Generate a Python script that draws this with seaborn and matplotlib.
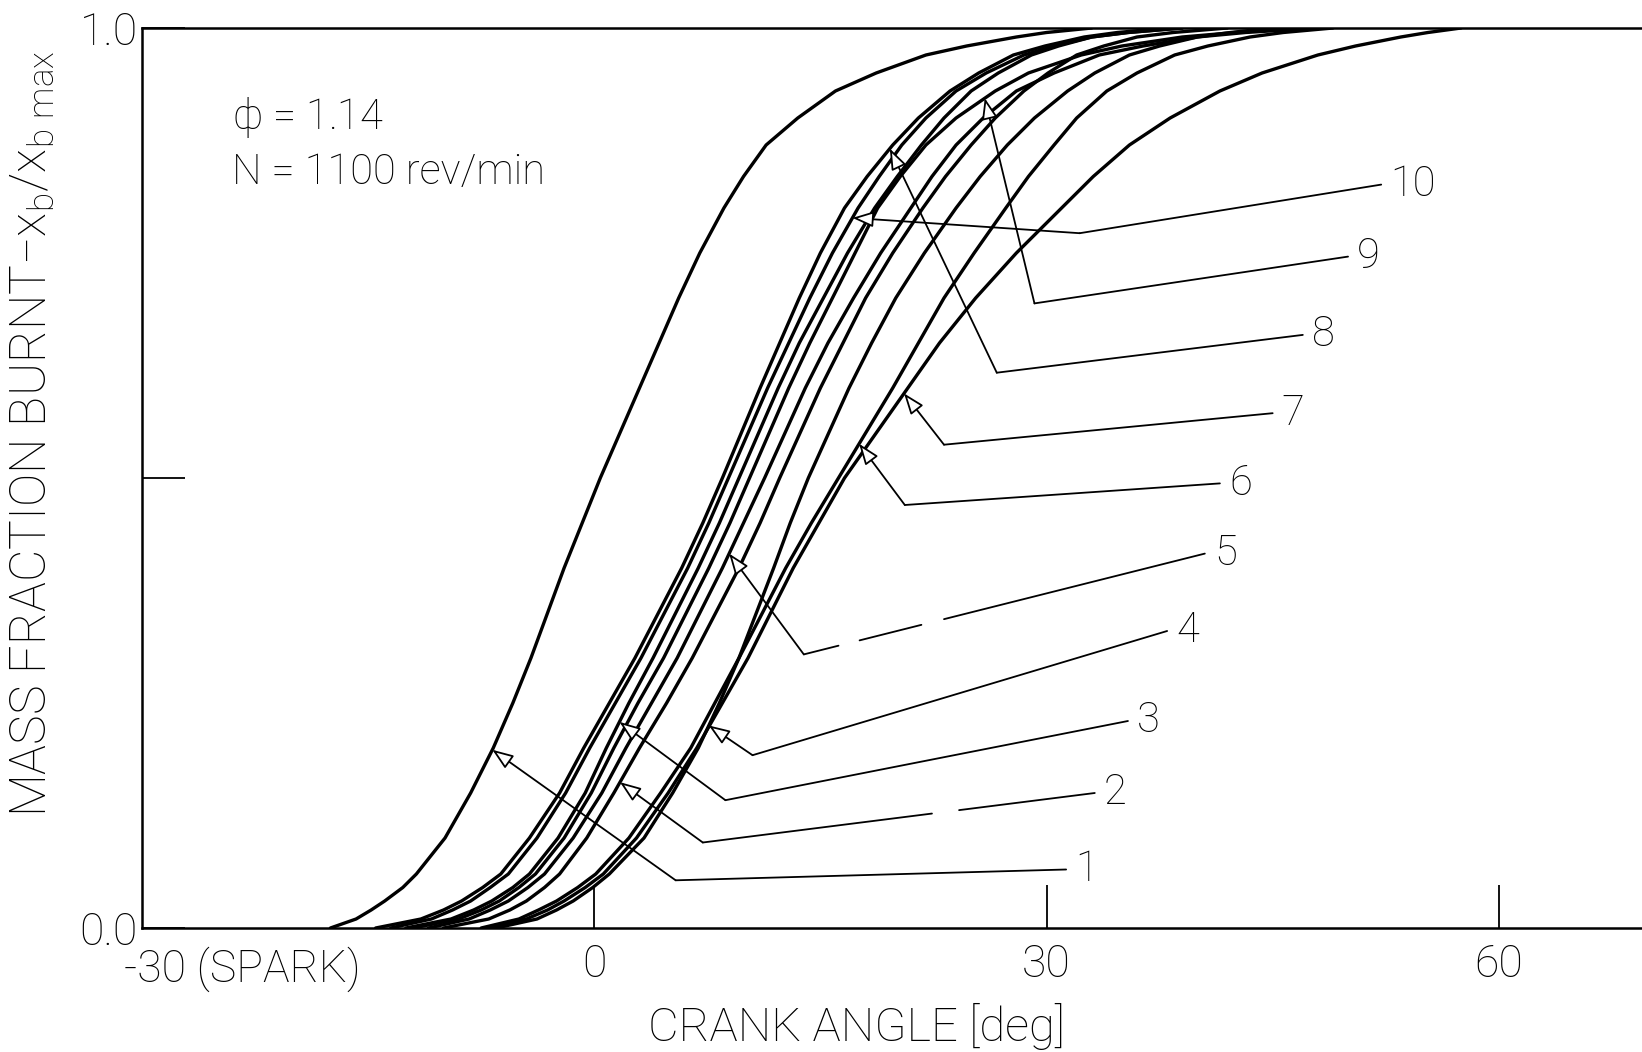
import numpy as np
import pandas as pd
import matplotlib
matplotlib.use("Agg")
import matplotlib.pyplot as plt
import seaborn as sns

# Burnt-mass fractions at which the crank angle of each cycle is tabulated
FRACTION_LEVELS = [0, 0.01, 0.02, 0.03, 0.045, 0.06, 0.1, 0.15, 0.2, 0.25,
                   0.3, 0.4, 0.45, 0.5, 0.6, 0.65, 0.7, 0.75, 0.8, 0.835,
                   0.87, 0.9, 0.93, 0.95, 0.97, 0.98, 0.99, 0.995, 1.0]

# Crank angle [deg] reached by each cycle at the fractions above
cycle_1 = [-17.5, -15.8, -14.8, -13.9, -12.7, -11.8, -9.9, -8.2, -6.7, -5.4,
           -4.2, -2.0, -0.8, 0.4, 3.0, 4.3, 5.6, 7.0, 8.6, 9.9,
           11.4, 13.5, 16.0, 18.7, 22.0, 24.7, 28.0, 30.0, 33.0]
cycle_2 = [-10.0, -7.0, -5.6, -4.5, -3.3, -2.3, -0.5, 1.3, 3.0, 4.8,
           6.5, 9.6, 11.0, 12.3, 15.0, 16.5, 18.0, 19.8, 21.8, 23.3,
           25.0, 26.6, 28.5, 30.1, 32.0, 33.8, 36.0, 38.4, 42.0]
cycle_3 = [-12.5, -9.5, -8.0, -6.8, -5.4, -4.3, -2.4, -0.6, 0.8, 2.3,
           3.9, 6.9, 8.3, 9.6, 12.2, 13.6, 15.2, 16.8, 18.6, 20.1,
           21.7, 23.2, 25.0, 26.8, 29.0, 30.8, 33.0, 35.4, 39.0]
cycle_4 = [-6.5, -3.8, -2.5, -1.4, -0.1, 1.0, 3.3, 5.2, 6.9, 8.3,
           9.6, 11.9, 13.0, 14.2, 16.9, 18.4, 20.0, 21.9, 24.0, 25.6,
           27.4, 29.2, 31.4, 33.2, 35.5, 37.5, 40.0, 42.2, 45.0]
cycle_5 = [-11.0, -8.3, -6.9, -5.7, -4.4, -3.3, -1.4, 0.5, 2.1, 3.8,
           5.5, 8.5, 9.9, 11.3, 14.0, 15.5, 17.2, 19.0, 21.0, 22.4,
           24.0, 25.8, 28.0, 30.5, 33.5, 36.4, 40.0, 43.2, 48.0]
cycle_6 = [-7.5, -5.0, -3.7, -2.5, -1.1, 0.1, 2.3, 4.4, 6.4, 8.0,
           9.6, 12.7, 14.4, 16.2, 19.8, 21.5, 23.2, 25.2, 27.3, 28.8,
           30.5, 32.0, 34.0, 36.0, 38.5, 40.7, 43.5, 45.7, 49.0]
cycle_7 = [-7.0, -4.5, -3.1, -2.0, -0.6, 0.6, 2.8, 4.9, 6.8, 8.5,
           10.2, 13.2, 14.9, 16.6, 20.8, 22.9, 25.3, 28.0, 31.0, 33.1,
           35.5, 38.2, 41.5, 44.3, 48.0, 50.5, 53.5, 55.3, 57.5]
cycle_8 = [-14.5, -11.5, -10.0, -8.8, -7.4, -6.2, -4.3, -2.3, -0.7, 1.0,
           2.7, 5.8, 7.2, 8.5, 11.0, 12.3, 13.6, 15.0, 16.6, 18.1,
           19.8, 21.5, 23.6, 25.5, 27.8, 29.9, 32.5, 34.7, 38.0]
cycle_9 = [-12.0, -9.0, -7.5, -6.3, -5.0, -3.9, -2.0, -0.2, 1.3, 2.9,
           4.6, 7.6, 9.0, 10.3, 12.9, 14.3, 15.8, 17.3, 18.8, 20.3,
           22.0, 24.0, 26.6, 28.8, 32.3, 35.0, 39.0, 42.5, 47.0]
cycle_10 = [-13.5, -10.8, -9.4, -8.2, -6.9, -5.7, -3.8, -1.9, -0.3, 1.4,
            3.1, 6.2, 7.6, 8.9, 11.5, 12.9, 14.3, 15.8, 17.5, 18.9,
            20.4, 22.0, 24.0, 26.0, 28.5, 30.5, 33.0, 35.4, 39.0]

cycles = {1: cycle_1, 2: cycle_2, 3: cycle_3, 4: cycle_4, 5: cycle_5,
          6: cycle_6, 7: cycle_7, 8: cycle_8, 9: cycle_9, 10: cycle_10}

# Callouts: burnt fraction where each arrow touches its cycle,
# knee of the leader line, and left-centre of the cycle number
arrow_fraction = {1: 0.198, 2: 0.162, 3: 0.229, 4: 0.225, 5: 0.416,
                  6: 0.538, 7: 0.594, 8: 0.866, 9: 0.922, 10: 0.789}
leader_knee = {1: (5.4, 0.053), 2: (7.2, 0.095), 3: (8.7, 0.142),
               4: (10.5, 0.192), 5: (13.9, 0.304), 6: (20.6, 0.470),
               7: (23.2, 0.537), 8: (26.7, 0.617), 9: (29.2, 0.694),
               10: (32.2, 0.772)}
number_pos = {1: (31.9, 0.065), 2: (33.8, 0.150), 3: (36.0, 0.230),
              4: (38.6, 0.330), 5: (41.1, 0.416), 6: (42.1, 0.494),
              7: (45.6, 0.572), 8: (47.6, 0.659), 9: (50.6, 0.746),
              10: (52.8, 0.826)}
# breaks in the hand-ruled leader lines (crank-angle spans left blank)
leader_breaks = {5: [(16.2, 17.6), (21.7, 23.2)], 2: [(22.4, 24.2)]}

x_ticks = [0, 30, 60]
x_tick_labels = ["0", "30", "60"]

rows = [(cid, ang, frac) for cid, angs in cycles.items()
        for frac, ang in zip(FRACTION_LEVELS, angs)]
df = pd.DataFrame(rows, columns=["cycle", "angle", "fraction"])

sns.set_theme(style="white")
plt.rcParams["font.family"] = ["Roboto", "DejaVu Sans"]
plt.rcParams["font.weight"] = "light"
plt.rcParams["mathtext.fontset"] = "custom"
plt.rcParams["mathtext.rm"] = "Roboto:light"
plt.rcParams["mathtext.it"] = "Roboto:light"

fig = plt.figure(figsize=(16.42, 10.52), dpi=100)
fig.patch.set_facecolor("white")
ax = fig.add_axes([142 / 1642, 124 / 1052, 1500 / 1642, 900 / 1052])

sns.lineplot(data=df, x="angle", y="fraction", units="cycle", estimator=None,
             sort=False, color="black", lw=2.4, ax=ax, legend=False)

ax.set_xlim(-30, 69.5)
ax.set_ylim(0, 1)

for side in ["left", "bottom", "top"]:
    ax.spines[side].set_visible(True)
    ax.spines[side].set_linewidth(1.8)
    ax.spines[side].set_color("black")
ax.spines["right"].set_visible(False)

ax.set_xticks(x_ticks)
ax.set_xticklabels(x_tick_labels)
ax.set_yticks([0, 0.5, 1.0])
ax.set_yticklabels(["0.0", "", "1.0"])
ax.tick_params(axis="both", direction="in", length=31, width=1.3,
               color="black", labelsize=32, labelcolor="black",
               bottom=True, left=True, top=False, right=False)
ax.tick_params(axis="x", pad=11)
ax.tick_params(axis="y", pad=3)
ax.set_xlabel("")
ax.set_ylabel("")

ax.text(-31.2, -0.021, "-30 (SPARK)", ha="left", va="top", fontsize=32,
        color="black")
ax.text(17.4, -0.083, "CRANK ANGLE [deg]", ha="center", va="top",
        fontsize=34, color="black")
fig.text(33 / 1642, 1 - 434 / 1052,
         r"MASS FRACTION BURNT$-$x$_\mathregular{b}$/x$_\mathregular{b\ max}$",
         rotation=90, ha="center", va="center", fontsize=36, color="black")

ax.text(-24.0, 0.900, r"$\phi$ = 1.14", ha="left", va="center", fontsize=30,
        color="black")
ax.text(-24.0, 0.839, "N = 1100 rev/min", ha="left", va="center",
        fontsize=30, color="black")

for cid in cycles:
    tip_f = arrow_fraction[cid]
    tip_x = np.interp(tip_f, FRACTION_LEVELS, cycles[cid])
    kx, ky = leader_knee[cid]
    nx, ny = number_pos[cid]
    ex, ey = nx - 0.6, ny
    # ruled line from the knee out to the number, with any breaks
    stops = [kx]
    for a, b in leader_breaks.get(cid, []):
        stops += [a, b]
    stops.append(ex)
    for i in range(0, len(stops), 2):
        xa, xb = stops[i], stops[i + 1]
        ya = ky + (ey - ky) * (xa - kx) / (ex - kx)
        yb = ky + (ey - ky) * (xb - kx) / (ex - kx)
        ax.plot([xa, xb], [ya, yb], color="black", lw=1.3)
    ax.annotate("", xy=(tip_x, tip_f), xytext=(kx, ky),
                arrowprops=dict(arrowstyle="-|>,head_length=0.8,head_width=0.3",
                                lw=1.3, ec="black", fc="white",
                                shrinkA=0, shrinkB=0, mutation_scale=16))
    ax.text(nx, ny, str(cid), ha="left", va="center", fontsize=30,
            color="black")

fig.savefig("out.png", dpi=100, facecolor="white")
